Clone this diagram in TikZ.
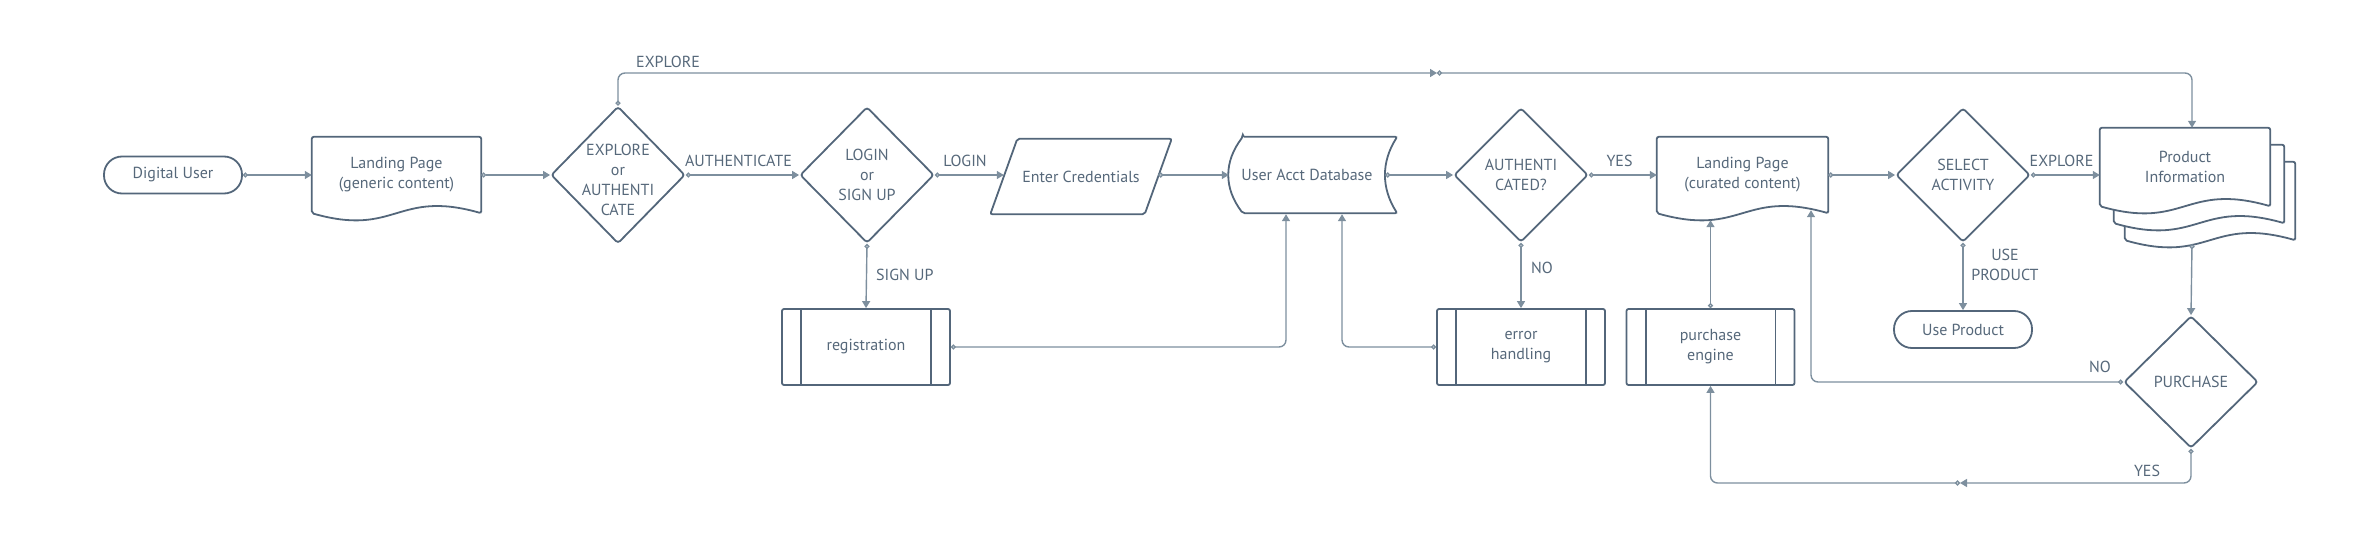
\documentclass[tikz,border=0pt]{standalone}
\usepackage{fontspec}
\setmainfont{PT Sans}
\usetikzlibrary{shapes.geometric,arrows.meta,calc,backgrounds}
\definecolor{shp}{HTML}{53667A}
\definecolor{cnn}{HTML}{7D8F9E}
\definecolor{txt}{HTML}{56687A}
\newcommand\docpath[3]{([shift={(#2,#3)}]#1.south east) -- ([shift={(#2,#3)}]#1.north east) -- ([shift={(#2,#3)}]#1.north west) -- ([shift={(#2,#3)}]#1.south west) .. controls ([shift={(#2,#3+24)}]#1.south) and ([shift={(#2,#3-24)}]#1.south) .. ([shift={(#2,#3)}]#1.south east) -- cycle}
\begin{document}
\begin{tikzpicture}[x=1pt,y=-1pt,
  every node/.style={font=\fontsize{16}{20}\selectfont, text=txt, align=center, inner sep=0pt},
  outl/.style={draw=shp, line width=1.8pt, rounded corners=2pt},
  term/.style={outl, rounded corners=18pt, minimum width=138pt, minimum height=37pt},
  blank/.style={minimum width=#1, minimum height=76pt},
  dia/.style={outl, shape=diamond, rounded corners=3pt, minimum width=134pt, minimum height=#1},
  proc/.style={outl, minimum width=168pt, minimum height=76pt},
  conn/.style={draw=cnn, line width=1.4pt, rounded corners=7pt, {Circle[open,length=5pt,width=5pt]}-{Triangle[length=7pt,width=8pt]}},
  lbl/.style={anchor=base}
]
\useasboundingbox (0,0) rectangle (2378,540);

% nodes
\node[term] (du) at (173,175) {Digital User};
\node[blank=169pt] (lp1) at (396.5,175) {Landing Page\\(generic content)};
\node[dia=137pt, label={[yshift=-5pt]center:{EXPLORE\\or\\AUTHENTI\\CATE}}] (d1) at (618,175) {};
\node[dia=136pt, label={center:{LOGIN\\or\\SIGN UP}}] (d2) at (867,175) {};
\node[minimum width=154pt, minimum height=75pt] (ec) at (1081,176.5) {Enter Credentials};
\node[minimum width=156pt, minimum height=76pt] (db) at (1307,175) {User Acct Database};
\node[dia=134pt, label={center:{AUTHENTI\\CATED?}}] (d3) at (1521,175) {};
\node[blank=171pt] (lp2) at (1742.5,175) {Landing Page\\(curated content)};
\node[dia=134pt, label={center:{SELECT\\ACTIVITY}}] (d4) at (1963,175) {};
\node[minimum width=170pt, minimum height=78pt] (pi) at (2185,167) {Product\\Information};
\node[proc] (reg) at (866,347) {registration};
\node[proc] (eh) at (1521,347) {error\\handling};
\node[proc] (pe) at (1710.5,347) {purchase\\engine};
\node[term] (pu) at (1963,329.5) {Use Product};
\node[dia=132pt, label={center:{PURCHASE}}] (pq) at (2191,382) {};

% shapes drawn around nodes
\draw[outl] \docpath{lp1}{0}{0};
\draw[outl] \docpath{lp2}{0}{0};
\begin{scope}[on background layer]
  \draw[outl, fill=white] \docpath{pi}{25}{34};
  \draw[outl, fill=white] \docpath{pi}{14}{17};
  \draw[outl, fill=white] \docpath{pi}{0}{0};
\end{scope}
\draw[outl] ([xshift=13.5pt]ec.north west) -- ([xshift=13.5pt]ec.north east) -- ([xshift=-13.5pt]ec.south east) -- ([xshift=-13.5pt]ec.south west) -- cycle;
\draw[outl] ([xshift=14pt]db.north west) -- ([xshift=12pt]db.north east)
  .. controls +(-16,25) and +(-16,-25) .. ([xshift=12pt]db.south east)
  -- ([xshift=14pt]db.south west)
  .. controls +(-19,-25) and +(-19,25) .. ([xshift=14pt]db.north west) -- cycle;
\foreach \n in {reg,eh,pe}{
  \draw[outl] ([xshift=20pt]\n.north west) -- ([xshift=20pt]\n.south west);
  \draw[outl] ([xshift=-20pt]\n.north east) -- ([xshift=-20pt]\n.south east);
}

% connectors
\coordinate (m1) at (1437,73);
\coordinate (m2) at (1960,483);
\draw[conn] (du.east) -- (lp1.west);
\draw[conn] (lp1.east) -- (d1.west);
\draw[conn] (d1.east) -- (d2.west);
\draw[conn] (d2.east) -- (d2.east -| ec.west);
\draw[conn] (ec.east |- db.west) -- (db.west);
\draw[conn] (db.east) -- (d3.west);
\draw[conn] (d3.east) -- (lp2.west);
\draw[conn] (lp2.east) -- (d4.west);
\draw[conn] (d4.east) -- (d4.east -| pi.west);
\draw[conn] (d1.north) |- (m1);
\draw[conn] (m1) -| ([xshift=7pt]pi.north);
\draw[conn] (d2.south) -- (reg.north);
\draw[conn] (reg.east) -| ($(db.south)+(-21,1)$);
\draw[conn] (eh.west) -| ($(db.south)+(35,1)$);
\draw[conn] (d3.south) -- (eh.north);
\draw[conn] (pe.north) -- ($(pe.north |- lp2.south)+(0,7)$);
\draw[conn] (d4.south) -- (pu.north);
\draw[conn] ($(pi.south)+(7,38)$) -- (pq.north);
\draw[conn] (pq.west) -| ($(lp2.south)+(68.5,-3)$);
\draw[conn] (pq.south) |- (m2);
\draw[conn] (m2) -| (pe.south);

% connector labels
\node[anchor=base west] (lx1) at (636,68) {EXPLORE};
\node[lbl] (la) at (738.5,167) {AUTHENTICATE};
\node[lbl] (ll) at (965,167) {LOGIN};
\node[lbl] (ly1) at (1619.5,167) {YES};
\node[lbl] (lx2) at (2061.5,167) {EXPLORE};
\node[anchor=base west] (ls) at (876,280) {SIGN UP};
\node[anchor=base west] (ln1) at (1531,273) {NO};
\node (lu) at (2005,265) {USE\\PRODUCT};
\node[lbl] (ln2) at (2100,372) {NO};
\node[lbl] (ly2) at (2147,476) {YES};
\end{tikzpicture}
\end{document}
